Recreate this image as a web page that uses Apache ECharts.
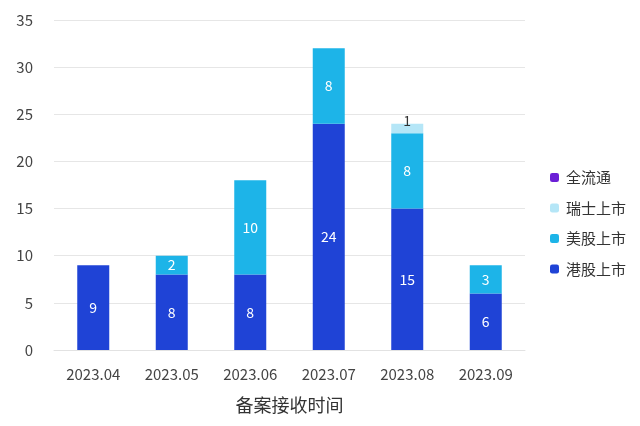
<!DOCTYPE html>
<html><head><meta charset="utf-8">
<script src="https://cdn.jsdelivr.net/npm/echarts@6/dist/echarts.min.js"></script>
<style>html,body{margin:0;padding:0;background:#fff}#c{width:640px;height:426px}</style>
</head><body><div id="c"></div>
<script>
const categories = ['2023.04','2023.05','2023.06','2023.07','2023.08','2023.09'];
const hkListing = [9, 8, 8, 24, 15, 6];
const usListing = [0, 2, 10, 8, 8, 3];
const swissListing = [0, 0, 0, 0, 1, 0];
const fullCirculation = [0, 0, 0, 0, 0, 0];
const seriesNames = ['港股上市','美股上市','瑞士上市','全流通'];
const yTicks = [0, 5, 10, 15, 20, 25, 30, 35];

const font = '"Noto Sans CJK SC","Noto Sans",sans-serif';
const chart = echarts.init(document.getElementById('c'), null, {renderer:'canvas'});
function nz(arr){ return arr.map(v => v === 0 ? null : v); }
chart.setOption({
  animation:false,
  textStyle:{fontFamily:font},
  grid:{left:54, right:115, top:20, bottom:76},
  legend:{
    orient:'vertical', left:545, top:165, itemWidth:9, itemHeight:9, itemGap:15.5,
    data:['全流通','瑞士上市','美股上市','港股上市'],
    textStyle:{fontSize:15, color:'#333', fontFamily:font, padding:[0,0,0,2]}
  },
  xAxis:{
    type:'category', data:categories,
    name:'备案接收时间', nameLocation:'middle', nameGap:46,
    nameTextStyle:{fontSize:18, color:'#333', fontFamily:font},
    axisLine:{lineStyle:{color:'#e2e2e2'}}, axisTick:{show:false},
    axisLabel:{fontSize:15, color:'#444', margin:17, fontFamily:font}
  },
  yAxis:{
    type:'value', min:0, max:35, interval:5,
    axisLabel:{fontSize:15, color:'#444', margin:21, fontFamily:font},
    splitLine:{lineStyle:{color:'#e6e6e6'}},
    axisLine:{show:false}, axisTick:{show:false}
  },
  series:[
    {name:'港股上市', type:'bar', stack:'a', barWidth:32, data:nz(hkListing),
     itemStyle:{color:'#1f43d6'},
     label:{show:true, position:'inside', color:'#fff', fontSize:14}},
    {name:'美股上市', type:'bar', stack:'a', data:nz(usListing),
     itemStyle:{color:'#1db4e8'},
     label:{show:true, position:'inside', color:'#fff', fontSize:14}},
    {name:'瑞士上市', type:'bar', stack:'a', data:nz(swissListing),
     itemStyle:{color:'#b5e6f7'},
     label:{show:true, position:'top', distance:-4, color:'#333', fontSize:14}},
    {name:'全流通', type:'bar', stack:'a', data:nz(fullCirculation),
     itemStyle:{color:'#6b1fd6'},
     label:{show:true, position:'inside', color:'#fff', fontSize:14}}
  ]
});
</script></body></html>
